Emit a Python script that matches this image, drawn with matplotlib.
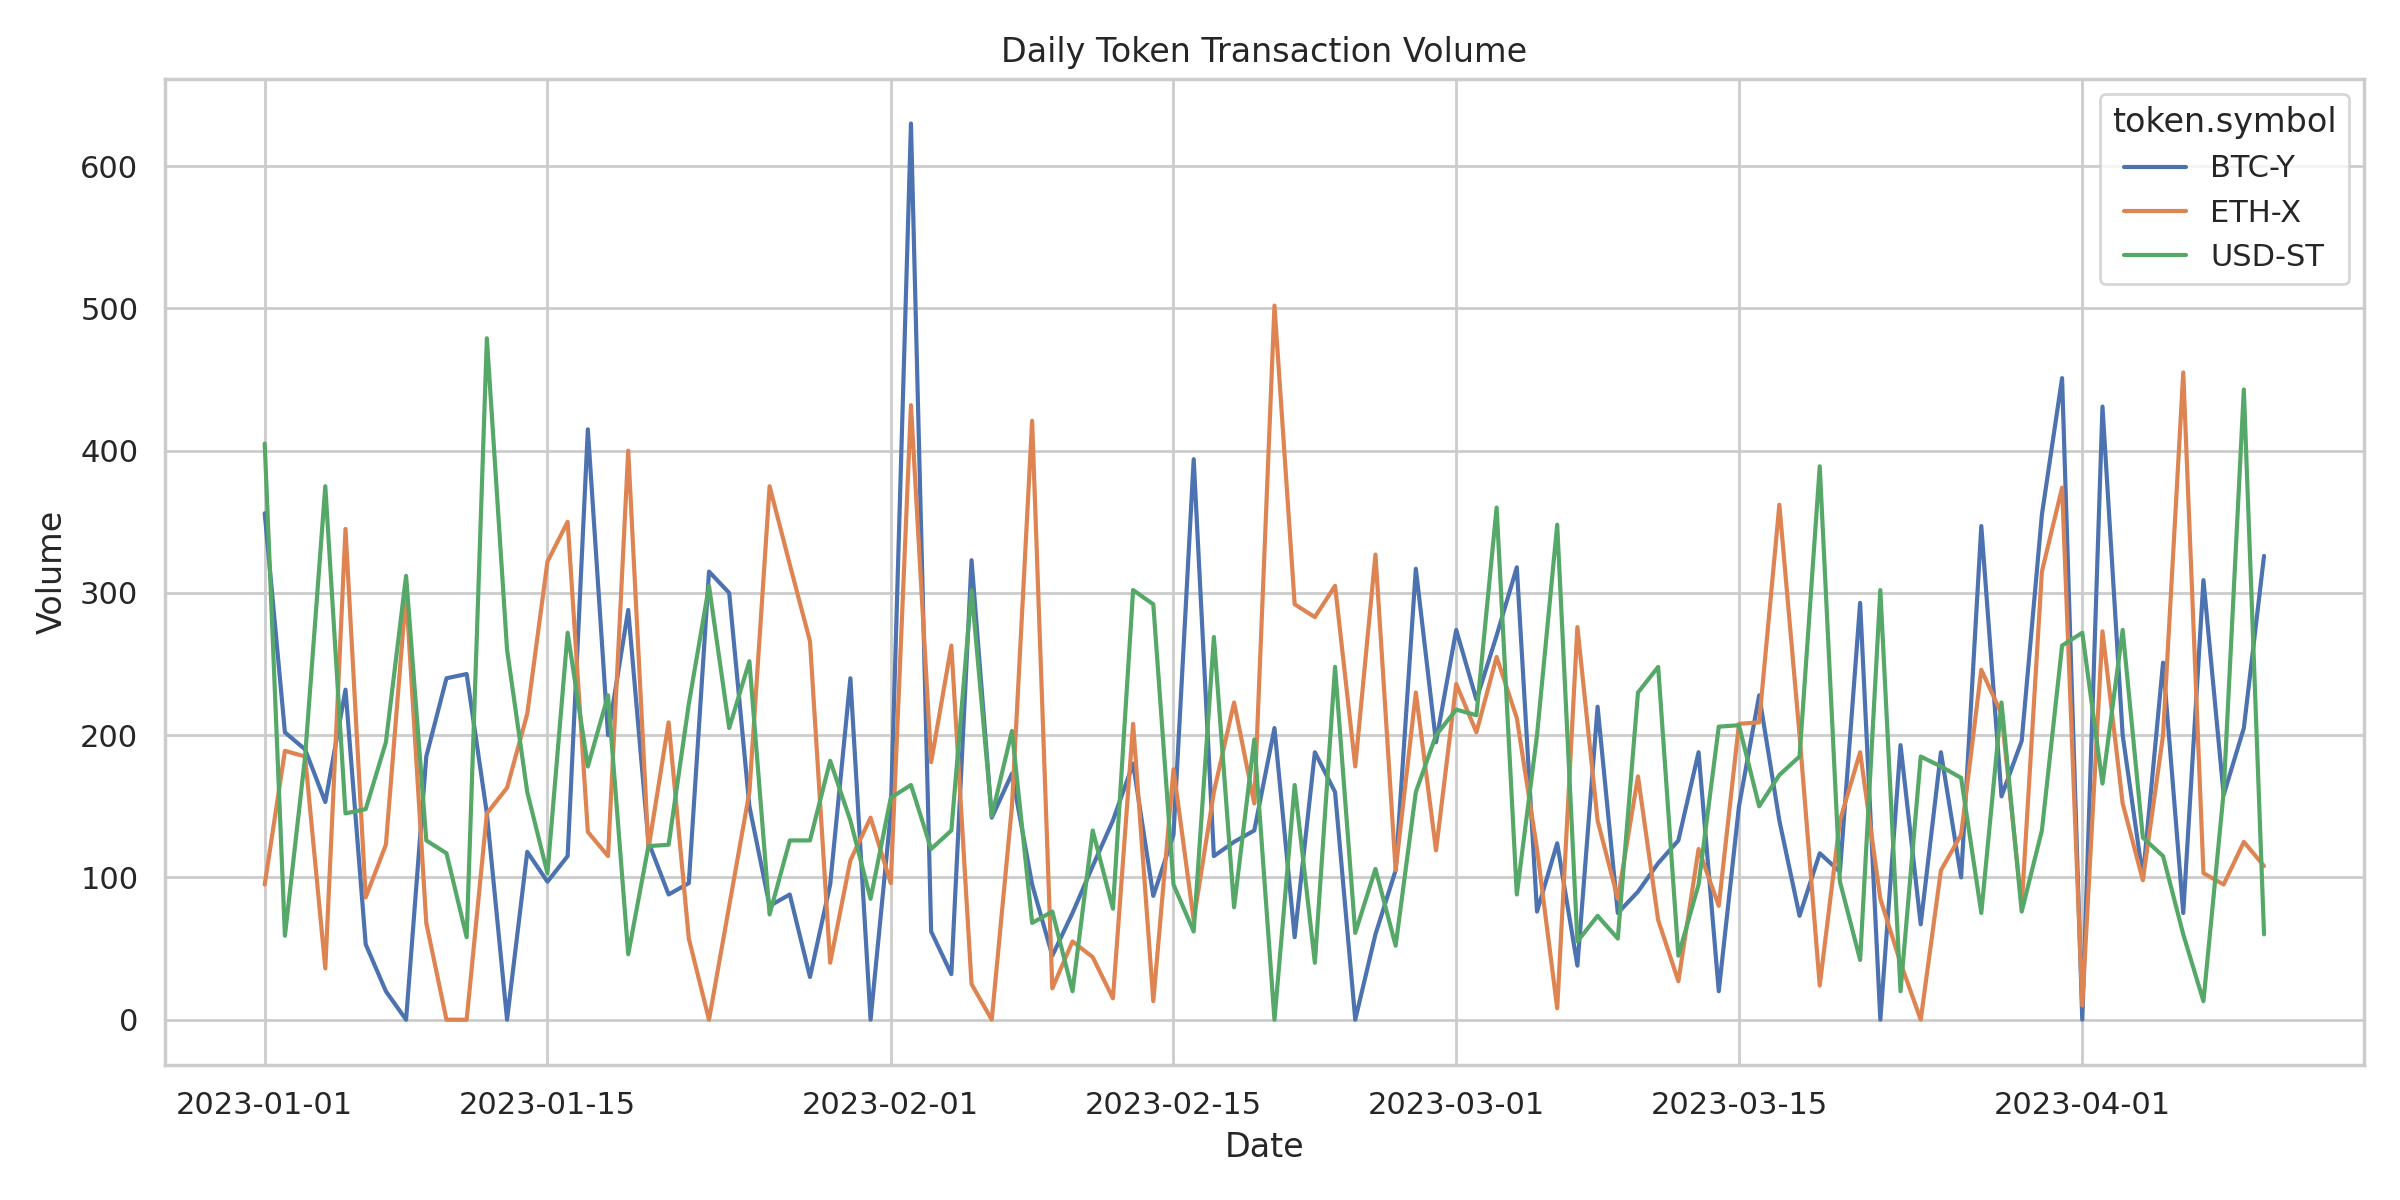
import matplotlib
matplotlib.use("Agg")
import matplotlib.pyplot as plt
import matplotlib.dates as mdates
import seaborn as sns
import pandas as pd

dates = pd.date_range("2023-01-01", periods=100, freq="D")

btc_y = [356, 202, 190, 153, 232, 53, 20, 0, 185, 240, 243, 145, 0, 118, 97, 115, 415, 200, 288, 125,
         88, 96, 315, 300, 150, 80, 88, 30, 95, 240, 0, 145, 630, 62, 32, 323, 142, 173, 95, 45,
         75, 108, 140, 180, 87, 130, 394, 115, 125, 133, 205, 58, 188, 160, 0, 60, 105, 317, 195, 274,
         225, 270, 318, 76, 124, 38, 220, 75, 90, 110, 126, 188, 20, 150, 228, 140, 73, 117, 104, 293,
         0, 193, 67, 188, 100, 347, 157, 196, 355, 451, 0, 431, 200, 100, 251, 75, 309, 158, 205, 326]

eth_x = [95, 189, 185, 36, 345, 86, 123, 300, 68, 0, 0, 145, 163, 215, 322, 350, 132, 115, 400, 120,
         209, 57, 0, 80, 160, 375, 320, 266, 40, 112, 142, 96, 432, 181, 263, 25, 0, 150, 421, 22,
         55, 44, 15, 208, 13, 176, 70, 160, 223, 152, 502, 292, 283, 305, 178, 327, 105, 230, 119, 236,
         202, 255, 212, 120, 8, 276, 140, 85, 171, 70, 27, 120, 80, 208, 209, 362, 200, 24, 140, 188,
         85, 40, 0, 105, 130, 246, 215, 80, 315, 374, 10, 273, 152, 98, 200, 455, 103, 95, 125, 108]

usd_st = [405, 59, 185, 375, 145, 148, 195, 312, 126, 117, 58, 479, 260, 160, 103, 272, 178, 228, 46, 122,
          123, 222, 305, 205, 252, 74, 126, 126, 182, 140, 85, 156, 165, 120, 133, 302, 143, 203, 68, 76,
          20, 133, 78, 302, 292, 95, 62, 269, 79, 197, 0, 165, 40, 248, 61, 106, 52, 160, 200, 218,
          214, 360, 88, 200, 348, 55, 73, 57, 230, 248, 45, 95, 206, 207, 150, 172, 185, 389, 97, 42,
          302, 20, 185, 178, 170, 75, 223, 76, 133, 263, 272, 166, 274, 128, 115, 60, 13, 160, 443, 60]

series = {"BTC-Y": btc_y, "ETH-X": eth_x, "USD-ST": usd_st}

sns.set_theme(style="whitegrid")
fig, ax = plt.subplots(figsize=(12, 6), dpi=200)
colors = sns.color_palette("deep")
for i, (name, vals) in enumerate(series.items()):
    ax.plot(dates, vals, color=colors[i], linewidth=1.5, label=name)

ax.set_title("Daily Token Transaction Volume")
ax.set_xlabel("Date")
ax.set_ylabel("Volume")
ax.xaxis.set_major_locator(mdates.DayLocator(bymonthday=[1, 15]))
ax.xaxis.set_major_formatter(mdates.DateFormatter("%Y-%m-%d"))
ax.legend(title="token.symbol", loc="upper right")
plt.tight_layout()
plt.savefig("out.png")
